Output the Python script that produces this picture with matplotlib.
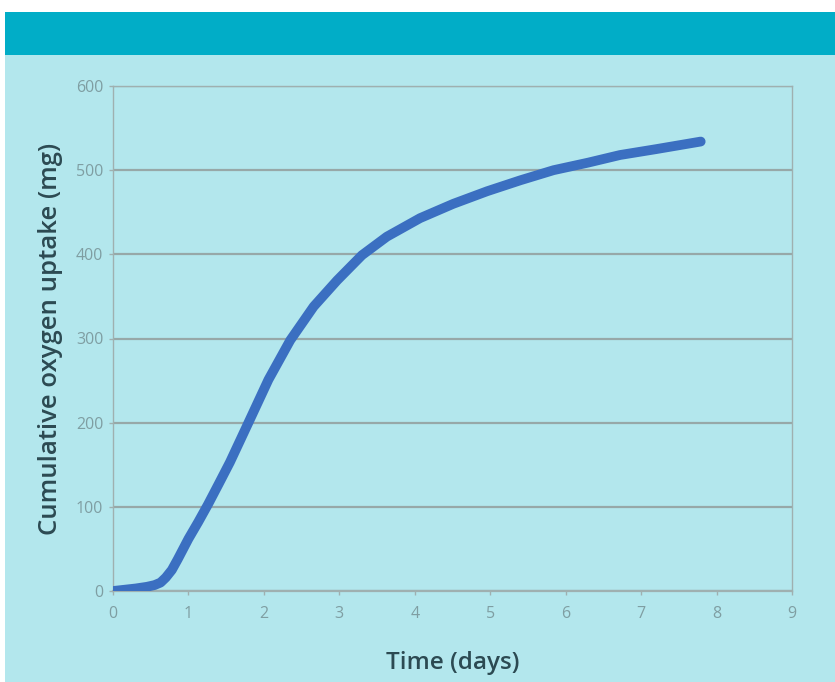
import matplotlib
matplotlib.use("Agg")
import matplotlib.pyplot as plt
from matplotlib.patches import Rectangle

# data
days = [0, 0.15, 0.3, 0.45, 0.55, 0.63, 0.7, 0.78, 0.86, 1.0, 1.13, 1.26, 1.4, 1.55,
        1.79, 2.06, 2.35, 2.66, 2.97, 3.3, 3.63, 4.07, 4.51, 4.96, 5.4, 5.84,
        6.3, 6.72, 7.2, 7.79]
uptake = [0, 1.5, 3, 5, 7, 10, 16, 25, 38, 62, 82, 103, 127, 153,
          199, 251, 298, 338, 369, 399, 421, 443, 460, 475, 488, 500,
          509, 518, 525, 534]

x_ticks = list(range(0, 10))
y_ticks = list(range(0, 700, 100))

plt.rcParams['font.family'] = ['Open Sans', 'DejaVu Sans']

fig = plt.figure(figsize=(8.35, 6.82), dpi=100)
fig.patch.set_facecolor('white')

# light cyan panel and teal header band
fig.add_artist(Rectangle((5 / 835, 0), 1, 1 - 55 / 682, transform=fig.transFigure,
                         facecolor='#b3e7ed', edgecolor='none', zorder=0))
fig.add_artist(Rectangle((5 / 835, 1 - 55 / 682), 1, 43 / 682, transform=fig.transFigure,
                         facecolor='#01adc7', edgecolor='none', zorder=0))

ax = fig.add_axes([113 / 835, 91 / 682, 679 / 835, 505 / 682])
ax.set_facecolor('none')

ax.plot(days, uptake, color='#3b6fc1', linewidth=7, solid_capstyle='round',
        solid_joinstyle='round', zorder=3)

ax.set_xlim(0, 9)
ax.set_ylim(0, 600)
ax.set_xticks(x_ticks)
ax.set_yticks(y_ticks)
ax.yaxis.grid(True, color='#97a8a8', linewidth=1.6)
ax.set_axisbelow(True)

for side in ['left', 'right', 'top', 'bottom']:
    ax.spines[side].set_color('#9fb0b0')
    ax.spines[side].set_linewidth(1.0)
ax.spines['bottom'].set_linewidth(1.6)

ax.tick_params(axis='both', colors='#9fb0b0', labelcolor='#7f9ea2',
               labelsize=11.5, length=3, width=1)
ax.tick_params(axis='x', pad=8)
ax.tick_params(axis='y', pad=4)

ax.set_xlabel('Time (days)', fontsize=17.5, color='#2c4a52', fontweight='semibold',
              labelpad=21)
ax.set_ylabel('Cumulative oxygen uptake (mg)', fontsize=18.5, color='#2c4a52',
              fontweight='semibold', labelpad=9)

fig.savefig('out.png', dpi=100)
